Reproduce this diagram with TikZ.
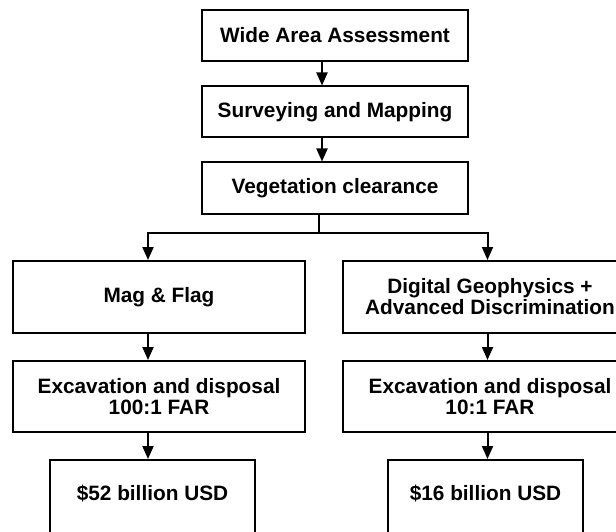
\documentclass[tikz,border=0pt]{standalone}
\usepackage{fontspec}
\setmainfont{Liberation Sans}
\usetikzlibrary{arrows.meta}

\begin{document}
\begin{tikzpicture}[x=1pt, y=-1pt,
  box/.style={draw, line width=2pt, inner sep=0pt, align=center,
    font=\bfseries\fontsize{20.8}{21}\selectfont},
  arr/.style={line width=2pt, -{Triangle[length=13pt, width=11pt]}}]
\path[use as bounding box, clip] (0,0) rectangle (616,532);
% common steps
\node[box, minimum width=266pt, minimum height=51pt] (wide) at (335,35.5) {Wide Area Assessment};
\node[box, minimum width=266pt, minimum height=51pt] (survey) at (335,112) {Surveying and Mapping};
\node[box, minimum width=266pt, minimum height=51pt] (veg) at (335,188) {Vegetation clearance};
\draw[arr] ([xshift=-13pt]wide.south) -- ([xshift=-13pt]survey.north);
\draw[arr] ([xshift=-13pt]survey.south) -- ([xshift=-13pt]veg.north);
% left branch
\node[box, minimum width=292pt, minimum height=72pt] (mag) at (159,297) {Mag \& Flag};
\node[box, minimum width=292pt, minimum height=71pt] (excleft) at (159,396.5) {Excavation and disposal\\100:1 FAR};
\node[box, minimum width=205pt, minimum height=80pt, text depth=14pt] (costleft) at (152.5,500) {\$52 billion USD};
% right branch
\node[box, minimum width=294pt, minimum height=72pt] (digital) at (490,297) {Digital Geophysics +\\Advanced Discrimination};
\node[box, minimum width=294pt, minimum height=71pt] (excright) at (490,396.5) {Excavation and disposal\\10:1 FAR};
\node[box, minimum width=195pt, minimum height=80pt, text depth=14pt] (costright) at (485.5,500) {\$16 billion USD};
% split
\coordinate (split) at (319,233);
\draw[line width=2pt] ([xshift=-16pt]veg.south) -- (split);
\draw[arr] (split) -| ([xshift=-11pt]mag.north);
\draw[arr] (split) -| ([xshift=-2.5pt]digital.north);
\draw[arr] ([xshift=-11pt]mag.south) -- ([xshift=-11pt]excleft.north);
\draw[arr] ([xshift=-11pt]excleft.south) -- ([xshift=-11pt]excleft.south |- costleft.north);
\draw[arr] ([xshift=-2.5pt]digital.south) -- ([xshift=-2.5pt]excright.north);
\draw[arr] ([xshift=-2.5pt]excright.south) -- ([xshift=-2.5pt]excright.south |- costright.north);
\end{tikzpicture}
\end{document}
